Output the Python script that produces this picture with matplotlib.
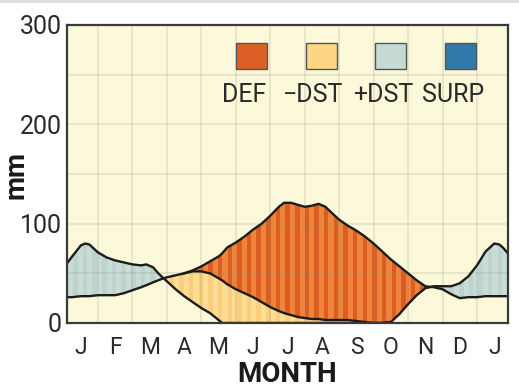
import matplotlib.pyplot as plt
import numpy as np
from matplotlib.patches import Rectangle
from matplotlib.path import Path

plt.rcParams['font.family'] = ['DejaVu Sans Condensed', 'Roboto', 'DejaVu Sans']

# months (0 = start of Jan)
month = [0.1, 0.25, 0.5, 0.625, 0.75, 1.0, 1.25, 1.5, 1.75, 2.0, 2.25, 2.4, 2.6, 2.75, 2.9,
         3.0, 3.25, 3.5, 3.75, 4.0, 4.25, 4.5, 4.6, 4.75, 5.0, 5.25, 5.5, 5.75, 6.0, 6.25,
         6.4, 6.6, 6.8, 7.0, 7.2, 7.4, 7.6, 7.75, 8.0, 8.25, 8.5, 8.75, 9.0, 9.25, 9.5,
         9.75, 10.0, 10.25, 10.5, 10.75, 11.0, 11.25, 11.5, 11.75, 12.0, 12.25, 12.5, 12.65, 12.75, 12.9]
precip = [60, 67, 78, 80, 79, 71, 66, 63, 61, 59, 58, 59, 56, 50, 45,
          42, 34, 27, 21, 15, 10, 3, 0, 0, 0, 0, 0, 0, 0, 0,
          0, 0, 0, 0, 0, 0, 0, 0, 0, 0, 0, 0, 0, 0, 1,
          9, 19, 28, 35, 37, 37, 37, 40, 47, 58, 72, 80, 79, 76, 70]
pet = [26, 26, 27, 27, 27, 28, 28, 28, 30, 33, 36, 38, 41, 43, 45,
       46, 48, 50, 53, 57, 62, 67, 70, 76, 81, 87, 94, 100, 108, 117,
       121, 121, 119, 117, 118, 120, 117, 112, 104, 98, 93, 87, 80, 72, 64,
       57, 50, 43, 37, 36, 34, 29, 25, 26, 26, 27, 27, 27, 27, 27]
actual_et = [26, 26, 27, 27, 27, 28, 28, 28, 30, 33, 36, 38, 41, 43, 45,
             46, 48, 50, 52, 52, 50, 45, 43, 39, 34, 30, 26, 21, 16, 12,
             10, 8, 6, 5, 4, 4, 3, 3, 3, 3, 2, 1, 0, 0, 1,
             9, 19, 28, 35, 36, 34, 29, 25, 26, 26, 27, 27, 27, 27, 27]

tick_months = ['J', 'F', 'M', 'A', 'M', 'J', 'J', 'A', 'S', 'O', 'N', 'D', 'J']
legend_labels = ['DEF', '\u2212DST', '+DST', 'SURP']
legend_colors = ['#dc5f26', '#fdd684', '#c6dad5', '#2f7aab']

x = np.array(month)
p = np.array(precip)
e = np.array(pet)
a = np.array(actual_et)

fig = plt.figure(figsize=(5.19, 3.89), dpi=100)
fig.patches.append(Rectangle((0, 1 - 3 / 389), 1, 3 / 389, transform=fig.transFigure,
                             fc='#dedede', ec='none'))
ax = fig.add_axes([67 / 519, 66 / 389, 441 / 519, 298 / 389])
ax.set_facecolor('#fcf8da')
ax.set_xlim(0.1, 12.9)
ax.set_ylim(0, 300)


def stripes(coll, dark):
    path = Path.make_compound_path(*coll.get_paths())
    bars = ax.bar(np.arange(0, 13, 0.28), 300, width=0.13, align='edge',
                  color=dark, linewidth=0, zorder=1.1)
    for b in bars:
        b.set_clip_path(path, ax.transData)


rech = ax.fill_between(x, e, p, where=p >= e, interpolate=True, color='#c9ddd7', lw=0, zorder=1)
stripes(rech, '#bed3cd')
util = ax.fill_between(x, p, a, where=a > p, interpolate=True, color='#fddc94', lw=0, zorder=1)
stripes(util, '#f9cf7e')
defi = ax.fill_between(x, a, e, where=e > a, interpolate=True, color='#ee853a', lw=0, zorder=1)
stripes(defi, '#db5d24')

lc = '#1c1c1c'
ax.plot(x, p, color=lc, lw=1.7, solid_joinstyle='round', zorder=3)
ax.plot(x, e, color=lc, lw=1.7, solid_joinstyle='round', zorder=3)
ax.plot(x[17:45], a[17:45], color=lc, lw=1.7, solid_joinstyle='round', zorder=3)

ax.set_axisbelow('line')
ax.set_xticks(np.arange(1, 13))
ax.set_xticklabels([])
ax.set_xticks(np.arange(0.5, 13, 1), minor=True)
ax.set_xticklabels(tick_months, minor=True, fontsize=16.5, color='#2a2a2a')
ax.set_yticks([0, 100, 200, 300])
ax.set_yticklabels(['0', '100', '200', '300'], fontsize=18, color='#2a2a2a')
ax.set_yticks([50, 150, 250], minor=True)
ax.tick_params(axis='both', which='both', length=0)
ax.tick_params(axis='y', pad=4)
ax.tick_params(axis='x', which='minor', pad=9)
ax.grid(True, axis='x', which='major', color='#8a8a70', alpha=0.2, lw=1.2)
ax.grid(True, axis='y', which='both', color='#8a8a70', alpha=0.2, lw=1.2)

for s in ax.spines.values():
    s.set_color('#3a3a3a')
    s.set_linewidth(1.6)
    s.set_zorder(4)

ax.set_xlabel('MONTH', fontsize=20, fontweight='bold', color='#1a1a1a', labelpad=2)
fig.text(16 / 519, 1 - 175 / 389, 'mm', rotation=90, ha='center', va='center',
         fontsize=20, fontweight='bold', color='#1a1a1a')

for i, (lab, col) in enumerate(zip(legend_labels, legend_colors)):
    x0 = 0.383 + i * 0.158
    ax.add_patch(Rectangle((x0, 0.852), 0.0703, 0.088, transform=ax.transAxes,
                           fc=col, ec='#555555', lw=1, zorder=5))
    ax.text(x0 + 0.018, 0.743, lab, transform=ax.transAxes, ha='center', va='baseline',
            fontsize=18, color='#2a2a2a', zorder=5)

fig.savefig('out.png', dpi=100)
